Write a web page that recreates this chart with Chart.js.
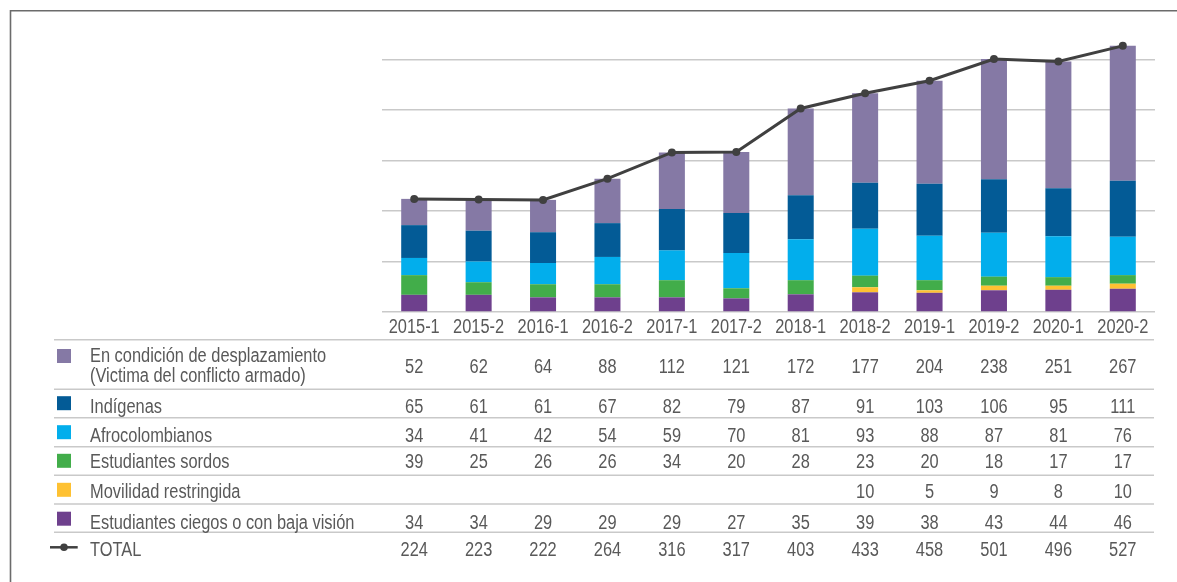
<!DOCTYPE html>
<html>
<head>
<meta charset="utf-8">
<script src="https://cdn.jsdelivr.net/npm/chart.js@4.4.1/dist/chart.umd.min.js"></script>
<style>
  html, body { margin: 0; padding: 0; background: #ffffff; }
  #wrap { width: 1177px; height: 582px; }
</style>
</head>
<body>
<div id="wrap"><canvas id="grafico" width="1177" height="582"></canvas></div>
<script>
// Periodos y valores por grupo
const periodos = ['2015-1', '2015-2', '2016-1', '2016-2', '2017-1', '2017-2', '2018-1', '2018-2', '2019-1', '2019-2', '2020-1', '2020-2'];
const desplazamiento = [52, 62, 64, 88, 112, 121, 172, 177, 204, 238, 251, 267];
const indigenas = [65, 61, 61, 67, 82, 79, 87, 91, 103, 106, 95, 111];
const afrocolombianos = [34, 41, 42, 54, 59, 70, 81, 93, 88, 87, 81, 76];
const sordos = [39, 25, 26, 26, 34, 20, 28, 23, 20, 18, 17, 17];
const movilidad = [null, null, null, null, null, null, null, 10, 5, 9, 8, 10];
const ciegos = [34, 34, 29, 29, 29, 27, 35, 39, 38, 43, 44, 46];
const total = [224, 223, 222, 264, 316, 317, 403, 433, 458, 501, 496, 527];
const ejeY = [0, 100, 200, 300, 400, 500, 600];

const textColor = '#595959';
const lineColor = '#c9c9c9';

// Filas de la tabla (arriba hacia abajo)
const filas = [
    { label: ['En condición de desplazamiento', '(Victima del conflicto armado)'], data: desplazamiento, color: '#8579a5' },
    { label: ['Indígenas'], data: indigenas, color: '#035b96' },
    { label: ['Afrocolombianos'], data: afrocolombianos, color: '#02aeec' },
    { label: ['Estudiantes sordos'], data: sordos, color: '#42ad4a' },
    { label: ['Movilidad restringida'], data: movilidad, color: '#fec132' },
    { label: ['Estudiantes ciegos o con baja visión'], data: ciegos, color: '#6e408d' }
];

// Texto "narrow" (simula Arial Narrow)
function narrowText(ctx, txt, x, y, align) {
    const sx = 0.82;
    ctx.save();
    ctx.font = '20px "Liberation Sans", Arial, sans-serif';
    ctx.fillStyle = textColor;
    ctx.textBaseline = 'alphabetic';
    ctx.textAlign = align || 'left';
    ctx.translate(x, y);
    ctx.scale(sx, 1);
    ctx.fillText(txt, 0, 0);
    ctx.restore();
}

const tablaPlugin = {
    id: 'tabla',
    afterDraw(chart) {
        const ctx = chart.ctx;
        const x = chart.scales.x;

        // marco
        ctx.save();
        ctx.strokeStyle = '#6b6b6b';
        ctx.lineWidth = 1.6;
        ctx.beginPath();
        ctx.moveTo(10.5, 582);
        ctx.lineTo(10.5, 10.8);
        ctx.lineTo(1177, 10.8);
        ctx.stroke();
        ctx.restore();

        // etiquetas del eje x
        periodos.forEach((p, i) => narrowText(ctx, p, x.getPixelForValue(i), 333.3, 'center'));

        // lineas de la tabla
        const lineYs = [339.7, 389.3, 417.7, 446.7, 475.3, 504, 532.3];
        ctx.save();
        ctx.strokeStyle = lineColor;
        ctx.lineWidth = 1.5;
        lineYs.forEach(y => {
            ctx.beginPath();
            ctx.moveTo(54, y);
            ctx.lineTo(1154, y);
            ctx.stroke();
        });
        ctx.restore();

        const baselines = [372.7, 412.7, 441.7, 468.3, 497.7, 529];
        const swatchY = [356, 403.2, 432.2, 460.8, 489.8, 518.7];

        filas.forEach((f, r) => {
            ctx.fillStyle = f.color;
            ctx.fillRect(57, swatchY[r] - 7, 14, 14);
            if (f.label.length > 1) {
                narrowText(ctx, f.label[0], 90, 361.7);
                narrowText(ctx, f.label[1], 90, 381.7);
            } else {
                narrowText(ctx, f.label[0], 90, baselines[r]);
            }
            f.data.forEach((v, i) => {
                if (v !== null) narrowText(ctx, String(v), x.getPixelForValue(i), baselines[r], 'center');
            });
        });

        // fila TOTAL
        ctx.save();
        ctx.strokeStyle = '#404040';
        ctx.fillStyle = '#404040';
        ctx.lineWidth = 2.5;
        ctx.beginPath();
        ctx.moveTo(50, 547.3);
        ctx.lineTo(77.7, 547.3);
        ctx.stroke();
        ctx.beginPath();
        ctx.arc(64, 547.3, 3.8, 0, Math.PI * 2);
        ctx.fill();
        ctx.restore();
        narrowText(ctx, 'TOTAL', 90, 556);
        total.forEach((v, i) => narrowText(ctx, String(v), x.getPixelForValue(i), 556, 'center'));
    }
};

function barSet(label, data, color) {
    return {
        type: 'bar',
        label: label,
        data: data,
        backgroundColor: color,
        borderWidth: 0,
        barPercentage: 0.404,
        categoryPercentage: 1.0,
        stack: 'grupos',
        order: 1
    };
}

const ctx = document.getElementById('grafico').getContext('2d');
new Chart(ctx, {
    data: {
        labels: periodos,
        datasets: [
            {
                type: 'line',
                label: 'TOTAL',
                data: total,
                borderColor: '#404040',
                backgroundColor: '#404040',
                borderWidth: 3,
                pointRadius: 4,
                pointBackgroundColor: '#404040',
                pointBorderWidth: 0,
                tension: 0,
                stack: 'total',
                order: 0
            },
            barSet('Estudiantes ciegos o con baja visión', ciegos, '#6e408d'),
            barSet('Movilidad restringida', movilidad, '#fec132'),
            barSet('Estudiantes sordos', sordos, '#42ad4a'),
            barSet('Afrocolombianos', afrocolombianos, '#02aeec'),
            barSet('Indígenas', indigenas, '#035b96'),
            barSet('En condición de desplazamiento (Victima del conflicto armado)', desplazamiento, '#8579a5')
        ]
    },
    options: {
        responsive: false,
        animation: false,
        layout: { padding: { left: 382, right: 22, top: 9, bottom: 270 } },
        plugins: {
            legend: { display: false },
            tooltip: { enabled: false }
        },
        scales: {
            x: { display: false, stacked: true },
            y: {
                stacked: true,
                min: ejeY[0],
                max: ejeY[ejeY.length - 1],
                ticks: { display: false, stepSize: 100 },
                border: { display: false },
                grid: {
                    drawTicks: false,
                    lineWidth: 1.5,
                    color: c => (c.tick && c.tick.value === ejeY[ejeY.length - 1]) ? 'rgba(0,0,0,0)' : lineColor
                }
            }
        }
    },
    plugins: [tablaPlugin]
});
</script>
</body>
</html>
